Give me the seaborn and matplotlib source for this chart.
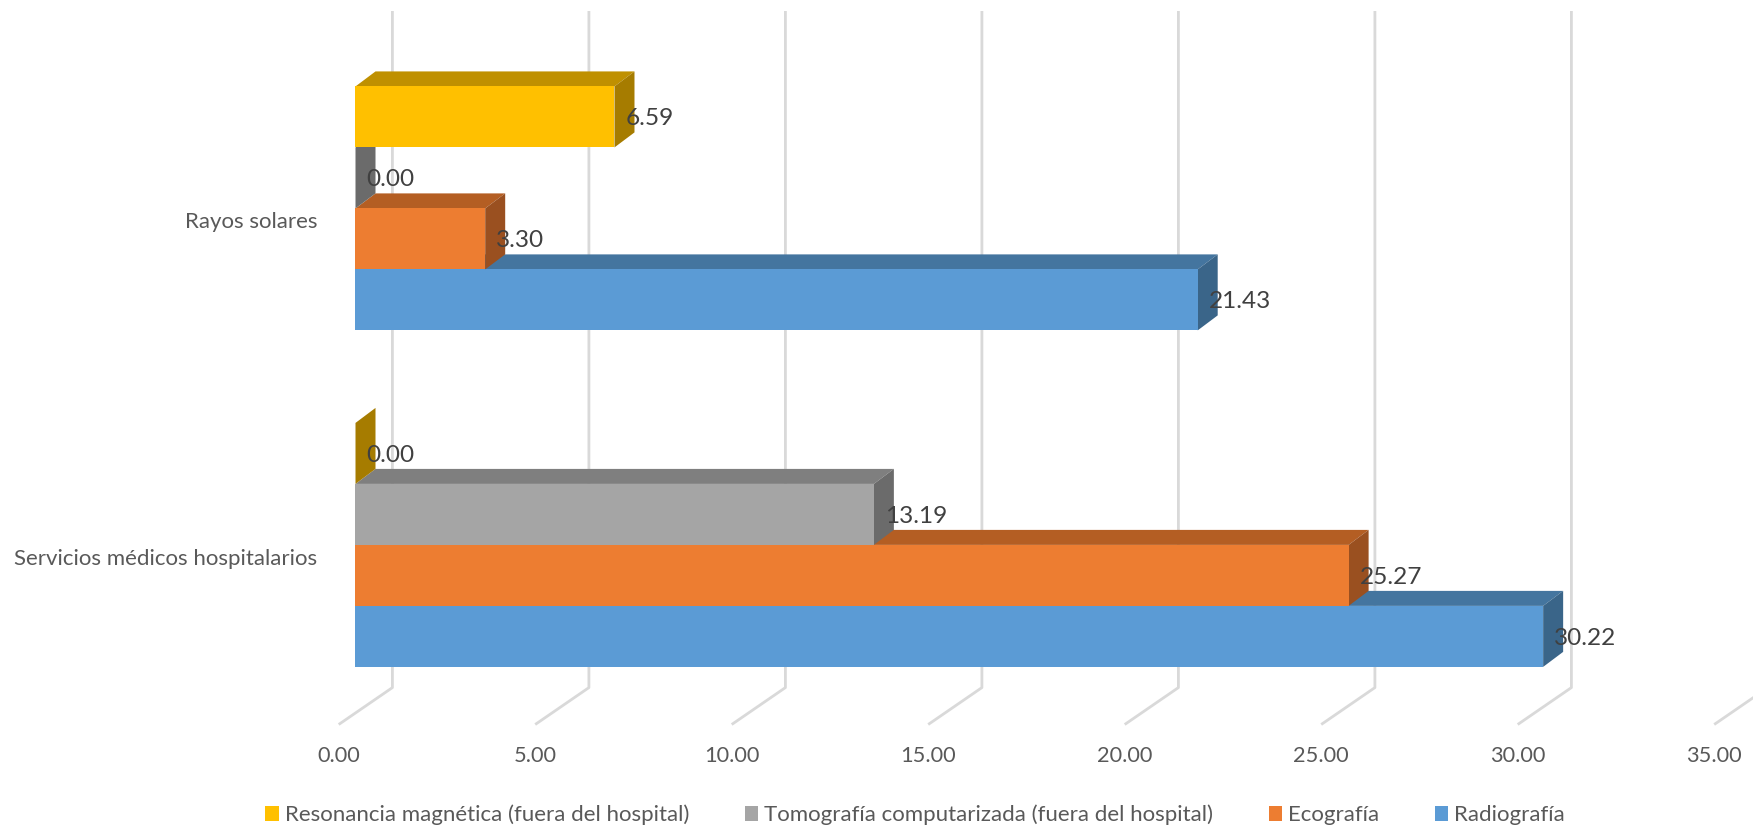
import numpy as np
import pandas as pd
import matplotlib
matplotlib.use("Agg")
import matplotlib.pyplot as plt
import seaborn as sns
from matplotlib.patches import Polygon

# ---- data -------------------------------------------------------------
categories = ["Rayos solares", "Servicios médicos hospitalarios"]
series = [
    "Resonancia magnética (fuera del hospital)",
    "Tomografía computarizada (fuera del hospital)",
    "Ecografía",
    "Radiografía",
]
resonancia = [6.59, 0.00]
tomografia = [0.00, 13.19]
ecografia = [3.30, 25.27]
radiografia = [21.43, 30.22]
value_ticks = [0, 5, 10, 15, 20, 25, 30, 35]

# ---- styling ----------------------------------------------------------
front_colors = ["#FFC000", "#A5A5A5", "#ED7D31", "#5B9BD5"]
top_colors = ["#BF9000", "#7F7F7F", "#B45E23", "#44759F"]
side_colors = ["#A67C00", "#6B6B6B", "#9A5020", "#3A6589"]
grid_color = "#D9D9D9"
text_color = "#595959"
label_color = "#404040"

W, H = 1753, 827
PX_PER_UNIT = 39.3      # pixels per value unit
X0 = 355.5              # pixel of value 0 on the bar front plane
PX_PER_CAT = 336.5      # pixels between category centres
Y0 = 208.4              # pixel of the first category centre
DEPTH = (20, -15)       # pixel offset of bar depth

sns.set_theme(style="white")
plt.rcParams["font.family"] = ["Lato", "DejaVu Sans"]


def xd(px):
    return (px - X0) / PX_PER_UNIT


def yd(py):
    return (py - Y0) / PX_PER_CAT


df = pd.DataFrame({
    "categoria": categories * 4,
    "serie": np.repeat(series, len(categories)),
    "valor": resonancia + tomografia + ecografia + radiografia,
})

fig = plt.figure(figsize=(W / 100, H / 100), dpi=100)
ax = fig.add_axes([0, 0, 1, 1])
sns.barplot(data=df, y="categoria", x="valor", hue="serie",
            order=categories, hue_order=series, orient="h",
            palette=front_colors, saturation=1, width=0.725, gap=0,
            linewidth=0, errorbar=None, ax=ax)

ax.set_xlim(xd(0), xd(W))
ax.set_ylim(yd(H), yd(0))
ax.axis("off")

# back wall gridlines and floor lines
back_dx = 36.9 / PX_PER_UNIT
front_dx = -16.8 / PX_PER_UNIT
for v in value_ticks:
    ax.plot([v + back_dx, v + back_dx, v + front_dx],
            [yd(11), yd(687.6), yd(724.5)],
            color=grid_color, lw=2.0, zorder=1, solid_capstyle="butt")
    ax.text(v + front_dx, yd(756), f"{v:.2f}", ha="center", va="center",
            fontsize=15.7, color=text_color)

# 3D faces for every bar
ddx = DEPTH[0] / PX_PER_UNIT
ddy = DEPTH[1] / PX_PER_CAT
for i, cont in enumerate(ax.containers):
    base = 2 + (len(series) - 1 - i) * 0.1
    for bar, val in zip(cont.patches, cont.datavalues):
        x0 = bar.get_x()
        x1 = x0 + bar.get_width()
        yt = bar.get_y()
        yb = yt + bar.get_height()
        top = Polygon([(x0, yt), (x1, yt), (x1 + ddx, yt + ddy), (x0 + ddx, yt + ddy)],
                      closed=True, facecolor=top_colors[i], edgecolor="none",
                      zorder=base)
        side = Polygon([(x1, yt), (x1, yb), (x1 + ddx, yb + ddy), (x1 + ddx, yt + ddy)],
                       closed=True, facecolor=side_colors[i], edgecolor="none",
                       zorder=base + 0.01)
        ax.add_patch(top)
        ax.add_patch(side)
        bar.set_zorder(base + 0.02)
        ax.annotate(f"{val:.2f}", xy=(x1, (yt + yb) / 2), xytext=(11, -2),
                    textcoords="offset pixels", ha="left", va="center",
                    fontsize=17.6, color=label_color, zorder=5)

# category labels
for k, cat in enumerate(categories):
    ax.text(xd(317.5), k + 14 / PX_PER_CAT, cat, ha="right", va="center",
            fontsize=16, color=text_color)

# legend
handles, labels = ax.get_legend_handles_labels()
ax.get_legend().remove()
fig.legend(handles, labels, loc="center", bbox_to_anchor=(915 / W, 1 - 815 / H),
           ncol=4, frameon=False, fontsize=16, labelcolor=text_color,
           handlelength=0.6, handleheight=0.6, handletextpad=0.27,
           columnspacing=2.5, borderpad=0)

fig.savefig("out.png", dpi=100, facecolor="white")
